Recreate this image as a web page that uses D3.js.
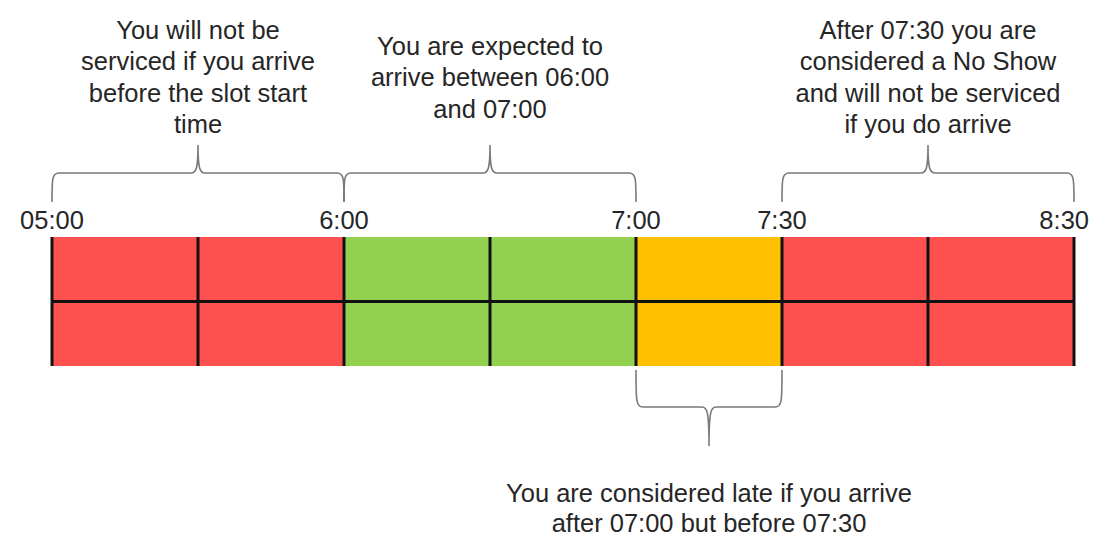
<!DOCTYPE html>
<html>
<head>
<meta charset="utf-8">
<script src="https://cdn.jsdelivr.net/npm/d3@7"></script>
<style>
  body { margin: 0; background: #fff; }
  .note, .tick { font-family: "Liberation Sans", Arial, sans-serif; font-size: 25.5px; fill: #262626; }
  .brace { fill: none; stroke: #7a7a7a; stroke-width: 1.6; }
  .grid { stroke: #111; stroke-width: 3; }
</style>
</head>
<body>
<script>
(function(){

//slot data (each slot = 30 min)
var slotStarts = ["05:00", "05:30", "06:00", "06:30", "07:00", "07:30", "08:00"];
var slotStatus = ["early", "early", "expected", "expected", "late", "noshow", "noshow"];
var rows = ["upper", "lower"];

//time labels above the bar
var tickTimes = ["05:00", "06:00", "07:00", "07:30", "08:30"];
var tickLabels = ["05:00", "6:00", "7:00", "7:30", "8:30"];

//annotations with braces
var noteFrom = ["05:00", "06:00", "07:00", "07:30"];
var noteTo = ["06:00", "07:00", "07:30", "08:30"];
var noteSide = ["top", "top", "bottom", "top"];
var noteLines = [
    ["You will not be", "serviced if you arrive", "before the slot start", "time"],
    ["You are expected to", "arrive between 06:00", "and 07:00"],
    ["You are considered late if you arrive", "after 07:00 but before 07:30"],
    ["After 07:30 you are", "considered a No Show", "and will not be serviced", "if you do arrive"]
];

var statusColor = {early: "#ff5050", expected: "#92d050", late: "#ffc000", noshow: "#ff5050"};

var width = 1097, height = 541;

function toMin(t){
    var p = t.split(":");
    return +p[0] * 60 + +p[1];
}

var svg = d3.select("body").append("svg")
    .attr("width", width)
    .attr("height", height);

//scales
var x = d3.scaleLinear()
    .domain([toMin("05:00"), toMin("08:30")])
    .range([52, 1074]);

var y = d3.scaleBand()
    .domain(rows)
    .range([237, 366]);

//coloured cells
var cells = [];
slotStarts.forEach(function(s, i){
    rows.forEach(function(r){
        cells.push({start: toMin(s), end: toMin(s) + 30, row: r, status: slotStatus[i]});
    });
});

svg.selectAll(".cell")
    .data(cells)
    .enter()
    .append("rect")
    .attr("class", "cell")
    .attr("x", function(d){ return x(d.start); })
    .attr("width", function(d){ return x(d.end) - x(d.start); })
    .attr("y", function(d){ return y(d.row); })
    .attr("height", y.bandwidth())
    .style("fill", function(d){ return statusColor[d.status]; });

//black grid lines
var bounds = slotStarts.map(toMin).concat([toMin("08:30")]);
svg.selectAll(".vline")
    .data(bounds)
    .enter()
    .append("line")
    .attr("class", "grid")
    .attr("x1", function(d){ return x(d); })
    .attr("x2", function(d){ return x(d); })
    .attr("y1", y.range()[0])
    .attr("y2", y.range()[1]);

svg.append("line")
    .attr("class", "grid")
    .attr("x1", x.range()[0])
    .attr("x2", x.range()[1])
    .attr("y1", y("lower"))
    .attr("y2", y("lower"));

//time labels, kept inside the picture
svg.selectAll(".tick")
    .data(tickTimes)
    .enter()
    .append("text")
    .attr("class", "tick")
    .attr("text-anchor", "middle")
    .attr("y", 229)
    .text(function(d, i){ return tickLabels[i]; })
    .attr("x", function(d){
        var len = this.getComputedTextLength();
        return Math.max(len / 2 + 8, Math.min(x(toMin(d)), width - len / 2 - 8));
    });

//brace path between x0 and x1, ends at e, horizontal at h, tip at t
function brace(x0, x1, e, h, t){
    var s = e > h ? -1 : 1; //direction from horizontal toward tip
    var xm = (x0 + x1) / 2;
    return "M" + x0 + "," + e +
        "C" + x0 + "," + (h - s * 6) + " " + x0 + "," + h + " " + (x0 + 7) + "," + h +
        "L" + (xm - 7) + "," + h +
        "C" + (xm - 2) + "," + h + " " + xm + "," + (h + s * 4) + " " + xm + "," + t +
        "C" + xm + "," + (h + s * 4) + " " + (xm + 2) + "," + h + " " + (xm + 7) + "," + h +
        "L" + (x1 - 7) + "," + h +
        "C" + x1 + "," + h + " " + x1 + "," + (h - s * 6) + " " + x1 + "," + e;
}

var lineH = 31.5;

noteFrom.forEach(function(f, i){
    var x0 = x(toMin(f)), x1 = x(toMin(noteTo[i]));
    var top = noteSide[i] == "top";
    var xm = (x0 + x1) / 2;

    svg.append("path")
        .attr("class", "brace")
        .attr("d", top ? brace(x0, x1, 202, 173, 145) : brace(x0, x1, 370, 407, 446));

    var lines = noteLines[i];
    var y0 = top ? 86 - (lines.length - 1) * lineH / 2 : 502;

    var txt = svg.append("text")
        .attr("class", "note")
        .attr("text-anchor", "middle");

    txt.selectAll("tspan")
        .data(lines)
        .enter()
        .append("tspan")
        .attr("x", xm)
        .attr("y", function(d, j){ return y0 + j * (top ? lineH : 30); })
        .text(function(d){ return d; });
});

})();
</script>
</body>
</html>
